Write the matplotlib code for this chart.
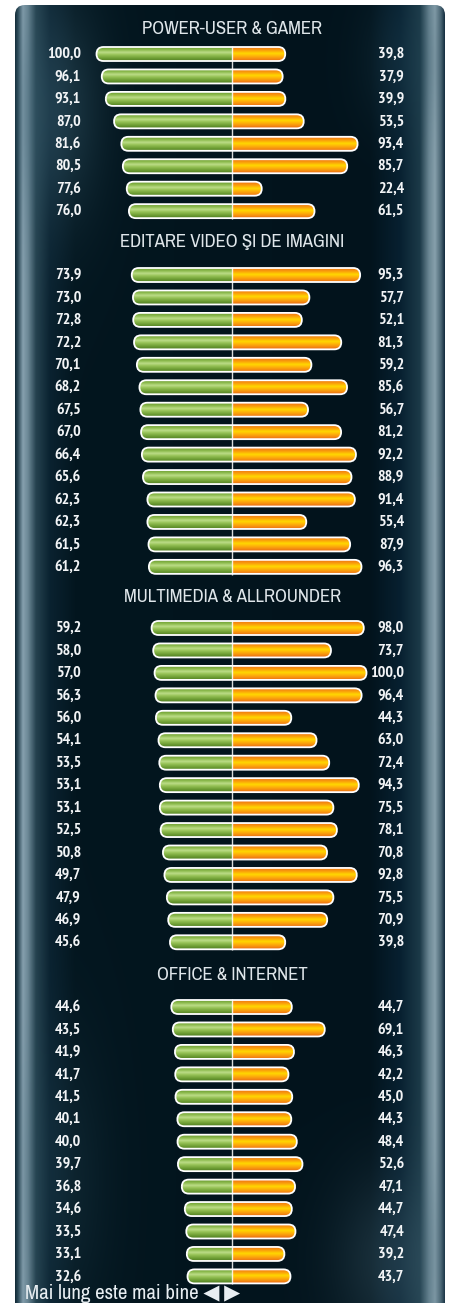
import numpy as np
import matplotlib
matplotlib.use("Agg")
import matplotlib.pyplot as plt
from matplotlib import font_manager
from matplotlib.patches import FancyBboxPatch
from matplotlib.colors import to_rgb

# =========================================================
# DATA
# =========================================================

section_titles = [
    "POWER-USER & GAMER",
    "EDITARE VIDEO ŞI DE IMAGINI",
    "MULTIMEDIA & ALLROUNDER",
    "OFFICE & INTERNET",
]

power_green = [100.0, 96.1, 93.1, 87.0, 81.6, 80.5, 77.6, 76.0]
power_orange = [39.8, 37.9, 39.9, 53.5, 93.4, 85.7, 22.4, 61.5]

video_green = [73.9, 73.0, 72.8, 72.2, 70.1, 68.2, 67.5, 67.0, 66.4, 65.6,
               62.3, 62.3, 61.5, 61.2]
video_orange = [95.3, 57.7, 52.1, 81.3, 59.2, 85.6, 56.7, 81.2, 92.2, 88.9,
                91.4, 55.4, 87.9, 96.3]

multimedia_green = [59.2, 58.0, 57.0, 56.3, 56.0, 54.1, 53.5, 53.1, 53.1,
                    52.5, 50.8, 49.7, 47.9, 46.9, 45.6]
multimedia_orange = [98.0, 73.7, 100.0, 96.4, 44.3, 63.0, 72.4, 94.3, 75.5,
                     78.1, 70.8, 92.8, 75.5, 70.9, 39.8]

office_green = [44.6, 43.5, 41.9, 41.7, 41.5, 40.1, 40.0, 39.7, 36.8, 34.6,
                33.5, 33.1, 32.6]
office_orange = [44.7, 69.1, 46.3, 42.2, 45.0, 44.3, 48.4, 52.6, 47.1, 44.7,
                 47.4, 39.2, 43.7]

green_sections = [power_green, video_green, multimedia_green, office_green]
orange_sections = [power_orange, video_orange, multimedia_orange, office_orange]

footer_text = "Mai lung este mai bine ◀ ▶"

# =========================================================
# FONTS: prefer a condensed face if one is installed
# =========================================================

def weight_num(w):
    if isinstance(w, int):
        return w
    return font_manager.weight_dict.get(str(w).lower(), 400)

def pick_narrow(bold):
    hits = []
    for f in font_manager.fontManager.ttflist:
        name = f.name.lower()
        narrow = ("condensed" in name or "narrow" in name
                  or f.stretch in ("condensed", "semi-condensed", "extra-condensed"))
        if not narrow or f.style != "normal":
            continue
        w = weight_num(f.weight)
        if bold and w < 600:
            continue
        if not bold and not (350 <= w <= 500):
            continue
        hits.append((f.name, w))
    if not hits:
        return ("DejaVu Sans", 700 if bold else 400)
    hits.sort(key=lambda h: (0 if "narrow" in h[0].lower() else
                             1 if "roboto" in h[0].lower() else 2, h[1]))
    return hits[0]

num_name, num_weight = pick_narrow(True)
txt_name, txt_weight = pick_narrow(False)
num_family = [num_name, "DejaVu Sans"]
txt_family = [txt_name, "DejaVu Sans"]

# =========================================================
# LAYOUT (pixels)
# =========================================================

W, H = 451, 1303
CENTER_PX = 231.5
PX_PER_UNIT = 1.35
ROW_STEP = 22.45
BAR_H = 14.0

header_y = [29, 242, 597, 975]
first_row_y = [54, 275, 628, 1007]

LEFT_LABEL_X = 81
RIGHT_LABEL_X = 404

fmt = lambda v: f"{v:.1f}".replace(".", ",")

fig = plt.figure(figsize=(W / 100, H / 100), dpi=100)
fig.patch.set_facecolor("white")

# background axes in pixel coordinates
bg = fig.add_axes([0, 0, 1, 1], zorder=0)
bg.set_xlim(0, W)
bg.set_ylim(H, 0)
bg.axis("off")

# chart axes: x in score units, 0 at the centre line
ax = fig.add_axes([0, 0, 1, 1], zorder=1)
ax.set_xlim(-CENTER_PX / PX_PER_UNIT, (W - CENTER_PX) / PX_PER_UNIT)
ax.set_ylim(H, 0)
ax.axis("off")
ax.patch.set_alpha(0)

# =========================================================
# PANEL BACKGROUND
# =========================================================

def hex_profile(xs, stops):
    pos = [p for p, _ in stops]
    cols = np.array([to_rgb(c) for _, c in stops])
    return np.stack([np.interp(xs, pos, cols[:, k]) for k in range(3)], axis=-1)

xs = np.arange(W) + 0.5
col_profile = hex_profile(xs, [
    (15, "#0d2430"), (18, "#2b4856"), (23, "#86a0ae"), (28, "#6c8896"),
    (36, "#25424f"), (50, "#0a2230"), (75, "#03161f"), (370, "#02131c"),
    (400, "#072030"), (420, "#1c3a48"), (429, "#6b8794"), (435, "#87a0ac"),
    (441, "#4b6674"), (445, "#10283a"),
])
img = np.repeat(col_profile[None, :, :], H, axis=0)

yy, xx = np.mgrid[0:H, 0:W]

for cx, cy, rx, ry, color, s in [
    (55, 110, 45, 110, "#3c6274", 0.45),
    (60, 1180, 45, 140, "#2d5263", 0.25),
    (395, 1260, 60, 90, "#4b6c7c", 0.35),
    (400, 60, 40, 70, "#24495a", 0.3),
]:
    a = np.exp(-(((xx - cx) / rx) ** 2 + ((yy - cy) / ry) ** 2))[..., None] * s
    img = img * (1 - a) + np.array(to_rgb(color)) * a

panel = FancyBboxPatch((15, 5), 430, 1340, boxstyle="round,pad=0,rounding_size=10",
                       transform=bg.transData, facecolor="none", edgecolor="none")
bg.add_patch(panel)
im = bg.imshow(img, extent=(0, W, H, 0), interpolation="bilinear", aspect="auto")
im.set_clip_path(panel)

# =========================================================
# BAR GRADIENTS
# =========================================================

def vertical_gradient(stops, n=40):
    ts = np.linspace(0, 1, n)
    return hex_profile(ts, stops)[:, None, :]

green_grad = vertical_gradient([
    (0.0, "#6a9a30"), (0.2, "#8fbd50"), (0.38, "#bcdc88"), (0.55, "#98c458"),
    (0.8, "#6e9e34"), (1.0, "#527f24"),
])
orange_grad = vertical_gradient([
    (0.0, "#ee7414"), (0.25, "#fba40a"), (0.45, "#ffd800"), (0.62, "#ffb808"),
    (0.85, "#f58c12"), (1.0, "#e86c12"),
])

r_units = (BAR_H / 2) / PX_PER_UNIT

def draw_bar(g, o, yc):
    top, bottom = yc - BAR_H / 2, yc + BAR_H / 2
    shape = FancyBboxPatch((-g, top), g + o, BAR_H,
                           boxstyle=f"round,pad=0,rounding_size={r_units}",
                           mutation_aspect=PX_PER_UNIT,
                           facecolor="none", edgecolor="none")
    ax.add_patch(shape)
    for grad, x0, x1 in [(green_grad, -g, 0), (orange_grad, 0, o)]:
        part = ax.imshow(grad, extent=(x0, x1, bottom, top), aspect="auto",
                         interpolation="bilinear", zorder=2)
        part.set_clip_path(shape)
    outline = FancyBboxPatch((-g, top), g + o, BAR_H,
                             boxstyle=f"round,pad=0,rounding_size={r_units}",
                             mutation_aspect=PX_PER_UNIT,
                             facecolor="none", edgecolor="white", linewidth=1.3,
                             zorder=3)
    ax.add_patch(outline)

# =========================================================
# DRAW SECTIONS
# =========================================================

for s, title in enumerate(section_titles):
    greens = green_sections[s]
    oranges = orange_sections[s]
    rows_y = [first_row_y[s] + i * ROW_STEP for i in range(len(greens))]

    bg.text(CENTER_PX + 1, header_y[s], title, ha="center", va="center",
            family=txt_family, fontweight=txt_weight, fontsize=13.5,
            color="#dfe6ea")

    for g, o, yc in zip(greens, oranges, rows_y):
        draw_bar(g, o, yc)
        bg.text(LEFT_LABEL_X, yc, fmt(g), ha="right", va="center",
                family=num_family, fontweight=num_weight, fontsize=11.5,
                color="#f2f4f6")
        bg.text(RIGHT_LABEL_X, yc, fmt(o), ha="right", va="center",
                family=num_family, fontweight=num_weight, fontsize=11.5,
                color="#f2f4f6")

    ax.plot([0, 0], [rows_y[0] - BAR_H / 2 - 1, rows_y[-1] + BAR_H / 2 + 1],
            color="white", linewidth=1.0, alpha=0.85, zorder=4,
            solid_capstyle="butt")

bg.text(25, 1299, footer_text, ha="left", va="baseline", family=txt_family,
        fontweight=txt_weight, fontsize=15, color="#e8eef2")

fig.savefig("out.png", dpi=100, facecolor=fig.get_facecolor())
